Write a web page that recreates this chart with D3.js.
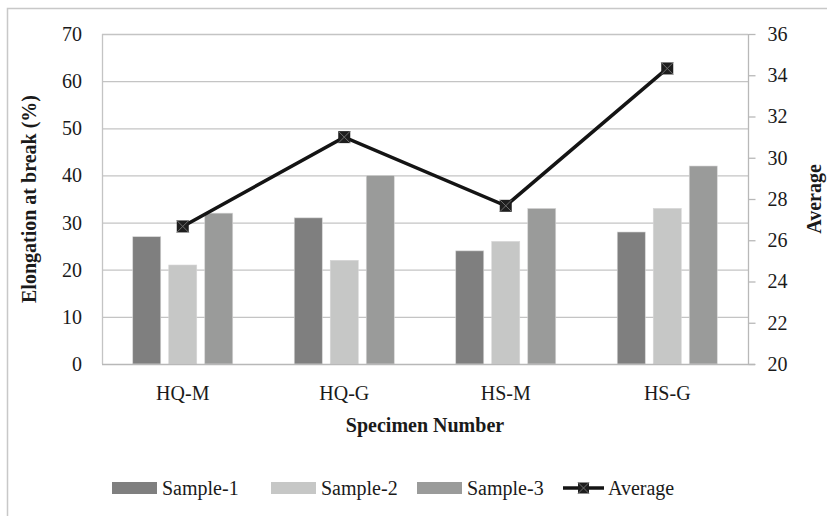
<!DOCTYPE html>
<html>
<head>
<meta charset="utf-8">
<script src="https://cdn.jsdelivr.net/npm/d3@7"></script>
<style>
  body { margin: 0; background: #fff; }
</style>
</head>
<body>
<script>
var w = 827, h = 516;
var serif = "'Liberation Serif', 'Times New Roman', Times, 'DejaVu Serif', serif";

var categories = ["HQ-M", "HQ-G", "HS-M", "HS-G"];
var seriesNames = ["Sample-1", "Sample-2", "Sample-3"];
var sample1 = [27, 31, 24, 28];
var sample2 = [21, 22, 26, 33];
var sample3 = [32, 40, 33, 42];
var average = [26.67, 31, 27.67, 34.33];
var leftTicks = [0, 10, 20, 30, 40, 50, 60, 70];
var rightTicks = [20, 22, 24, 26, 28, 30, 32, 34, 36];
var colors = ["#7f7f7f", "#c6c7c6", "#9a9b9a"];

var m = {left: 102, right: 748, top: 34, bottom: 364};

var svg = d3.select("body").append("svg")
  .attr("width", w).attr("height", h)
  .style("font-family", serif);

// chart frame
svg.append("rect")
  .attr("x", 7.5).attr("y", 8.5)
  .attr("width", 840).attr("height", 540)
  .attr("fill", "none").attr("stroke", "#c8c8c8").attr("stroke-width", 1.5);

var x0 = d3.scaleBand().domain(categories).range([m.left, m.right]);
var x1 = d3.scaleBand().domain(seriesNames)
  .range([x0.bandwidth() / 2 - 50, x0.bandwidth() / 2 + 50])
  .paddingInner(0.222).paddingOuter(0);
var yL = d3.scaleLinear().domain([0, 70]).range([m.bottom, m.top]);
var yR = d3.scaleLinear().domain([20, 36]).range([m.bottom, m.top]);

// gridlines
svg.append("g").selectAll("line").data(leftTicks.slice(1)).enter().append("line")
  .attr("x1", m.left).attr("x2", m.right)
  .attr("y1", function(d) { return yL(d) + 0.5; })
  .attr("y2", function(d) { return yL(d) + 0.5; })
  .attr("stroke", "#c4c4c4").attr("stroke-width", 1.3);

// left axis line
svg.append("line").attr("x1", m.left + 0.5).attr("x2", m.left + 0.5)
  .attr("y1", m.top).attr("y2", m.bottom)
  .attr("stroke", "#c4c4c4").attr("stroke-width", 1.3);

function txt(sel) {
  return sel.style("font-family", serif).style("font-size", "20px").attr("fill", "#1a1a1a");
}

// left axis labels
txt(svg.append("g").selectAll("text").data(leftTicks).enter().append("text")
  .attr("x", 82).attr("y", function(d) { return yL(d); })
  .attr("dy", "0.35em").attr("text-anchor", "end")
  .text(function(d) { return d; }));

// right axis
var rAxis = svg.append("g").attr("transform", "translate(" + (m.right + 0.5) + ",0)")
  .call(d3.axisRight(yR).tickValues(rightTicks).tickSize(7).tickPadding(12));
rAxis.attr("font-family", null).attr("font-size", null);
rAxis.selectAll("line, path").attr("stroke", "#b8b8b8").attr("stroke-width", 1.3);
rAxis.select("path").attr("d", "M0," + m.top + "V" + m.bottom);
txt(rAxis.selectAll("text"));

// bars
var rows = categories.map(function(c, i) {
  return {cat: c, vals: [sample1[i], sample2[i], sample3[i]]};
});
var groups = svg.append("g").selectAll("g").data(rows).enter().append("g")
  .attr("transform", function(d) { return "translate(" + x0(d.cat) + ",0)"; });
groups.selectAll("rect").data(function(d) {
    return d.vals.map(function(v, j) { return {s: seriesNames[j], v: v, j: j}; });
  }).enter().append("rect")
  .attr("x", function(d) { return x1(d.s); })
  .attr("y", function(d) { return yL(d.v); })
  .attr("width", x1.bandwidth())
  .attr("height", function(d) { return yL(0) - yL(d.v); })
  .attr("fill", function(d) { return colors[d.j]; })
  .attr("stroke", "#d6d6d6").attr("stroke-width", 0.6);

// bottom axis line
svg.append("line").attr("x1", m.left).attr("x2", m.right + 7)
  .attr("y1", m.bottom + 0.5).attr("y2", m.bottom + 0.5)
  .attr("stroke", "#b8b8b8").attr("stroke-width", 1.3);

// category labels
txt(svg.append("g").selectAll("text").data(categories).enter().append("text")
  .attr("x", function(d) { return x0(d) + x0.bandwidth() / 2; })
  .attr("y", 400).attr("text-anchor", "middle")
  .text(function(d) { return d; }));

// average line
var cx = function(d, i) { return x0(categories[i]) + x0.bandwidth() / 2; };
var line = d3.line().x(cx).y(function(d) { return yR(d); });
svg.append("path").datum(average).attr("d", line)
  .attr("fill", "none").attr("stroke", "#141414").attr("stroke-width", 3.5);

function marker(g, x, y, s) {
  g.append("rect").attr("x", x - s / 2).attr("y", y - s / 2)
    .attr("width", s).attr("height", s).attr("fill", "#1e1e1e");
  g.append("path")
    .attr("d", "M" + (x - s / 2) + "," + (y - s / 2) + "L" + (x + s / 2) + "," + (y + s / 2) +
               "M" + (x + s / 2) + "," + (y - s / 2) + "L" + (x - s / 2) + "," + (y + s / 2))
    .attr("stroke", "#6e6e6e").attr("stroke-width", 1);
}
var mk = svg.append("g");
average.forEach(function(d, i) { marker(mk, cx(d, i), yR(d), 12); });

// axis titles
txt(svg.append("text").attr("transform", "translate(36," + ((m.top + m.bottom) / 2) + ") rotate(-90)")
  .attr("text-anchor", "middle").style("font-weight", "bold")
  .text("Elongation at break (%)"));
txt(svg.append("text").attr("transform", "translate(821," + ((m.top + m.bottom) / 2) + ") rotate(-90)")
  .attr("text-anchor", "middle").style("font-weight", "bold")
  .text("Average"));
txt(svg.append("text").attr("x", (m.left + m.right) / 2).attr("y", 432)
  .attr("text-anchor", "middle").style("font-weight", "bold")
  .text("Specimen Number"));

// legend
var legX = [112, 271, 417];
var leg = svg.append("g");
seriesNames.forEach(function(s, j) {
  leg.append("rect").attr("x", legX[j]).attr("y", 482).attr("width", 45).attr("height", 12)
    .attr("fill", colors[j]);
  txt(leg.append("text").attr("x", legX[j] + 50).attr("y", 495).text(s));
});
leg.append("line").attr("x1", 563).attr("x2", 604).attr("y1", 488).attr("y2", 488)
  .attr("stroke", "#141414").attr("stroke-width", 3.5);
marker(leg, 583.5, 488, 11);
txt(leg.append("text").attr("x", 608).attr("y", 495).text("Average"));
</script>
</body>
</html>
